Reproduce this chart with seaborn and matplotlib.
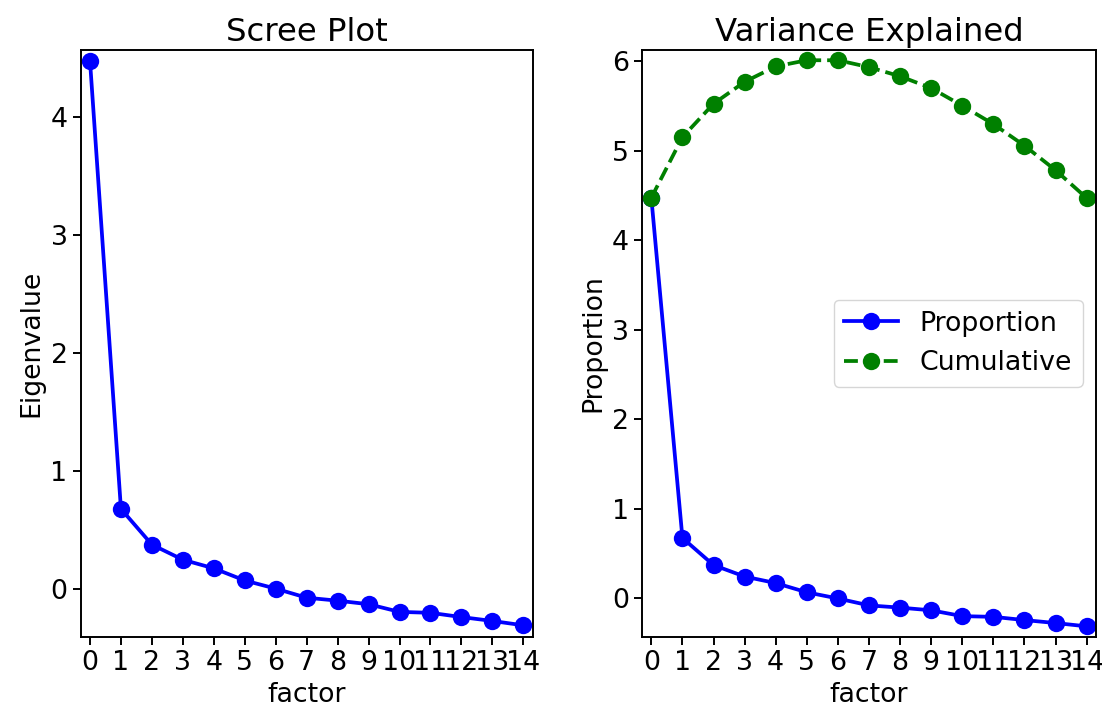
import matplotlib
matplotlib.use("Agg")
import matplotlib.pyplot as plt
import seaborn as sns
import pandas as pd

factors = list(range(15))
eigenvalues = [4.475, 0.676, 0.373, 0.245, 0.172, 0.069, 0.0, -0.077, -0.102,
               -0.132, -0.197, -0.205, -0.241, -0.274, -0.311]
cumulative = [4.475, 5.151, 5.524, 5.769, 5.941, 6.010, 6.010, 5.933, 5.831,
              5.699, 5.502, 5.297, 5.056, 4.782, 4.471]
tick_labels = [str(f) for f in factors]

df = pd.DataFrame({"factor": factors, "Eigenvalue": eigenvalues, "Cumulative": cumulative})

FS = 19.3
TFS = 23.3
plt.rcParams.update({
    "font.family": ["DejaVu Sans"],
    "font.size": FS,
    "axes.linewidth": 1.4,
    "xtick.major.width": 1.4,
    "ytick.major.width": 1.4,
    "xtick.major.size": 6,
    "ytick.major.size": 6,
})

fig = plt.figure(figsize=(11.02, 7.15), dpi=100)
W, H = 1102, 715
ax1 = fig.add_axes([80.7 / W, (H - 637) / H, (532.6 - 80.7) / W, (637 - 49.5) / H])
ax2 = fig.add_axes([642 / W, (H - 637) / H, (1096 - 642) / W, (637 - 49.5) / H])

lw, ms = 2.7, 12.5

sns.lineplot(data=df, x="factor", y="Eigenvalue", ax=ax1, color="blue",
             marker="o", markersize=ms, markeredgewidth=0, linewidth=lw)
ax1.set_title("Scree Plot", fontsize=TFS)
ax1.set_xlabel("factor", fontsize=FS)
ax1.set_ylabel("Eigenvalue", fontsize=FS)
ax1.set_xlim(-0.3, 14.3)
ax1.set_ylim(-0.41, 4.57)
ax1.set_xticks(factors)
ax1.set_xticklabels(tick_labels)
ax1.set_yticks([0, 1, 2, 3, 4])

sns.lineplot(data=df, x="factor", y="Eigenvalue", ax=ax2, color="blue",
             marker="o", markersize=ms, markeredgewidth=0, linewidth=lw, label="Proportion")
sns.lineplot(data=df, x="factor", y="Cumulative", ax=ax2, color="green",
             marker="o", markersize=ms, markeredgewidth=0, linewidth=lw,
             linestyle="--", label="Cumulative")
ax2.set_title("Variance Explained", fontsize=TFS)
ax2.set_xlabel("factor", fontsize=FS)
ax2.set_ylabel("Proportion", fontsize=FS)
ax2.set_xlim(-0.3, 14.3)
ax2.set_ylim(-0.43, 6.13)
ax2.set_xticks(factors)
ax2.set_xticklabels(tick_labels)
ax2.set_yticks([0, 1, 2, 3, 4, 5, 6])
ax2.legend(loc="center right", fontsize=FS)

for ax in (ax1, ax2):
    ax.tick_params(labelsize=FS)

fig.savefig("out.png", dpi=100)
